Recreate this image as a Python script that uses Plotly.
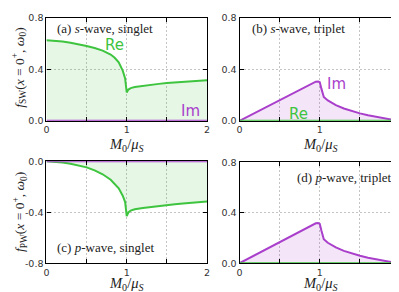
import plotly.graph_objects as go

M = [0, 0.1, 0.2, 0.3, 0.4, 0.5, 0.6, 0.7, 0.8, 0.85, 0.9, 0.95, 0.98, 1.0,
     1.02, 1.05, 1.1, 1.2, 1.3, 1.4, 1.5, 1.6, 1.7, 1.8, 1.9, 2.0]

sw_singlet_re = [0.625, 0.622, 0.616, 0.607, 0.596, 0.582, 0.566, 0.545, 0.515, 0.49,
                 0.455, 0.39, 0.33, 0.22, 0.243, 0.254, 0.262, 0.272, 0.28, 0.287,
                 0.293, 0.298, 0.303, 0.308, 0.312, 0.316]
sw_singlet_im = [0.0] * len(M)

sw_triplet_im = [0.0, 0.032, 0.064, 0.096, 0.128, 0.16, 0.192, 0.224, 0.256, 0.272,
                 0.288, 0.304, 0.306, 0.30, 0.25, 0.185, 0.158, 0.122, 0.096, 0.076,
                 0.058, 0.043, 0.03, 0.018, 0.008, 0.0]
sw_triplet_re = [0.0] * len(M)

pw_singlet_re = [0.0, -0.003, -0.01, -0.02, -0.033, -0.048, -0.072, -0.102, -0.145, -0.175,
                 -0.212, -0.27, -0.32, -0.43, -0.402, -0.387, -0.377, -0.366, -0.358, -0.351,
                 -0.344, -0.338, -0.332, -0.326, -0.32, -0.315]
pw_singlet_im = [0.0] * len(M)

pw_triplet_im = [0.0, 0.033, 0.066, 0.099, 0.132, 0.165, 0.198, 0.231, 0.264, 0.28,
                 0.298, 0.316, 0.318, 0.312, 0.26, 0.19, 0.162, 0.125, 0.098, 0.077,
                 0.059, 0.044, 0.031, 0.019, 0.008, 0.0]
pw_triplet_re = [0.0] * len(M)

x_tick_labels = ["0", "", "1", "", "2"]
y_tick_labels_pos = ["0.0", "0.4", "0.8"]
y_tick_labels_neg = ["-0.8", "-0.4", "0.0"]

GREEN = "#3fc43f"
PURPLE = "#a93fcb"
GFILL = "rgba(63,196,63,0.13)"
PFILL = "rgba(169,63,203,0.13)"

fig = go.Figure()

def add(xa, ya, y, color, fill=None):
    fig.add_trace(go.Scatter(x=M, y=y, mode="lines", xaxis=xa, yaxis=ya,
                             line=dict(color=color, width=2),
                             fill="tozeroy" if fill else None,
                             fillcolor=fill, showlegend=False, hoverinfo="skip"))

add("x", "y", sw_singlet_re, GREEN, GFILL)
add("x", "y", sw_singlet_im, PURPLE)
add("x2", "y2", sw_triplet_im, PURPLE, PFILL)
add("x2", "y2", sw_triplet_re, GREEN)
add("x3", "y3", pw_singlet_re, GREEN, GFILL)
add("x3", "y3", pw_singlet_im, PURPLE)
add("x4", "y4", pw_triplet_im, PURPLE, PFILL)
add("x4", "y4", pw_triplet_re, GREEN)

W, H = 399, 292
def px_x(a, b):
    return [a / W, b / W]
def px_y(top, bot):
    return [(H - bot) / H, (H - top) / H]

tickfont = dict(family="DejaVu Sans", size=9.5, color="#333")
common_x = dict(range=[0, 2], tickvals=[0, 0.5, 1, 1.5, 2], ticktext=x_tick_labels,
                showline=True, linecolor="black", linewidth=1.2, mirror="allticks",
                ticks="inside", ticklen=4, tickcolor="black",
                showgrid=True, gridcolor="#c4c4c4", griddash="2px,2px", gridwidth=1,
                zeroline=False, tickfont=tickfont, fixedrange=True)
common_y = dict(showline=True, linecolor="black", linewidth=1.2, mirror="allticks",
                ticks="inside", ticklen=4, tickcolor="black",
                showgrid=True, gridcolor="#c4c4c4", griddash="2px,2px", gridwidth=1,
                zeroline=False, tickfont=tickfont, fixedrange=True)

fig.update_layout(
    width=W, height=H, margin=dict(l=0, r=0, t=0, b=0),
    paper_bgcolor="white", plot_bgcolor="white",
    xaxis=dict(domain=px_x(36, 199), anchor="y", **common_x),
    yaxis=dict(domain=px_y(4, 111), anchor="x", range=[0, 0.8], tickvals=[0, 0.4, 0.8],
               ticktext=y_tick_labels_pos, **common_y),
    xaxis2=dict(domain=px_x(232, 395), anchor="y2", **common_x),
    yaxis2=dict(domain=px_y(4, 111), anchor="x2", range=[0, 0.8], tickvals=[0, 0.4, 0.8],
                ticktext=y_tick_labels_pos, **common_y),
    xaxis3=dict(domain=px_x(36, 199), anchor="y3", **common_x),
    yaxis3=dict(domain=px_y(153, 259), anchor="x3", range=[-0.8, 0], tickvals=[-0.8, -0.4, 0],
                ticktext=y_tick_labels_neg, **common_y),
    xaxis4=dict(domain=px_x(232, 395), anchor="y4", **common_x),
    yaxis4=dict(domain=px_y(154, 259), anchor="x4", range=[0, 0.8], tickvals=[0, 0.4, 0.8],
                ticktext=y_tick_labels_pos, **common_y),
)

serif = "Liberation Serif"
anns = []
def lab(xr, yr, x, y, text, xanchor="left"):
    anns.append(dict(xref=xr, yref=yr, x=x, y=y, text=text, showarrow=False,
                     xanchor=xanchor, yanchor="middle",
                     font=dict(family=serif, size=13, color="#222")))

lab("x", "y", 0.11, 0.72, "(a) <i>s</i>-wave, singlet")
lab("x2", "y2", 0.125, 0.72, "(b) <i>s</i>-wave, triplet")
lab("x3", "y3", 0.11, -0.68, "(c) <i>p</i>-wave, singlet")
lab("x4", "y4", 1.92, 0.68, "(d) <i>p</i>-wave, triplet", xanchor="right")

def colored(xr, yr, x, y, text, color):
    anns.append(dict(xref=xr, yref=yr, x=x, y=y, text=text, showarrow=False,
                     font=dict(family="DejaVu Sans", size=15, color=color)))

colored("x", "y", 0.85, 0.59, "Re", GREEN)
colored("x", "y", 1.8, 0.08, "Im", PURPLE)
colored("x2", "y2", 1.21, 0.285, "Im", PURPLE)
colored("x2", "y2", 0.74, 0.053, "Re", GREEN)

xt = "<i>M</i><sub>0</sub>/<i>μ</i><sub><i>S</i></sub>"
for cx, cy, anc in [(117, 125, "top"), (314, 125, "top"), (117, 292, "bottom"), (314, 292, "bottom")]:
    anns.append(dict(xref="paper", yref="paper", x=cx / W, y=(H - cy) / H, text=xt,
                     showarrow=False, xanchor="center", yanchor=anc,
                     font=dict(family="Liberation Serif", size=14.5, color="#222")))

for cy, sub in [(56, "SW"), (206, "PW")]:
    anns.append(dict(xref="paper", yref="paper", x=9 / W, y=(H - cy) / H,
                     text=f"<i>f</i><sub>{sub}</sub>(<i>x</i> = 0<sup>+</sup>, <i>ω</i><sub>0</sub>)",
                     textangle=-90, showarrow=False, xanchor="center", yanchor="middle",
                     font=dict(family="Liberation Serif", size=13.5, color="#222")))

fig.update_layout(annotations=anns)
fig.write_html("out.html")
